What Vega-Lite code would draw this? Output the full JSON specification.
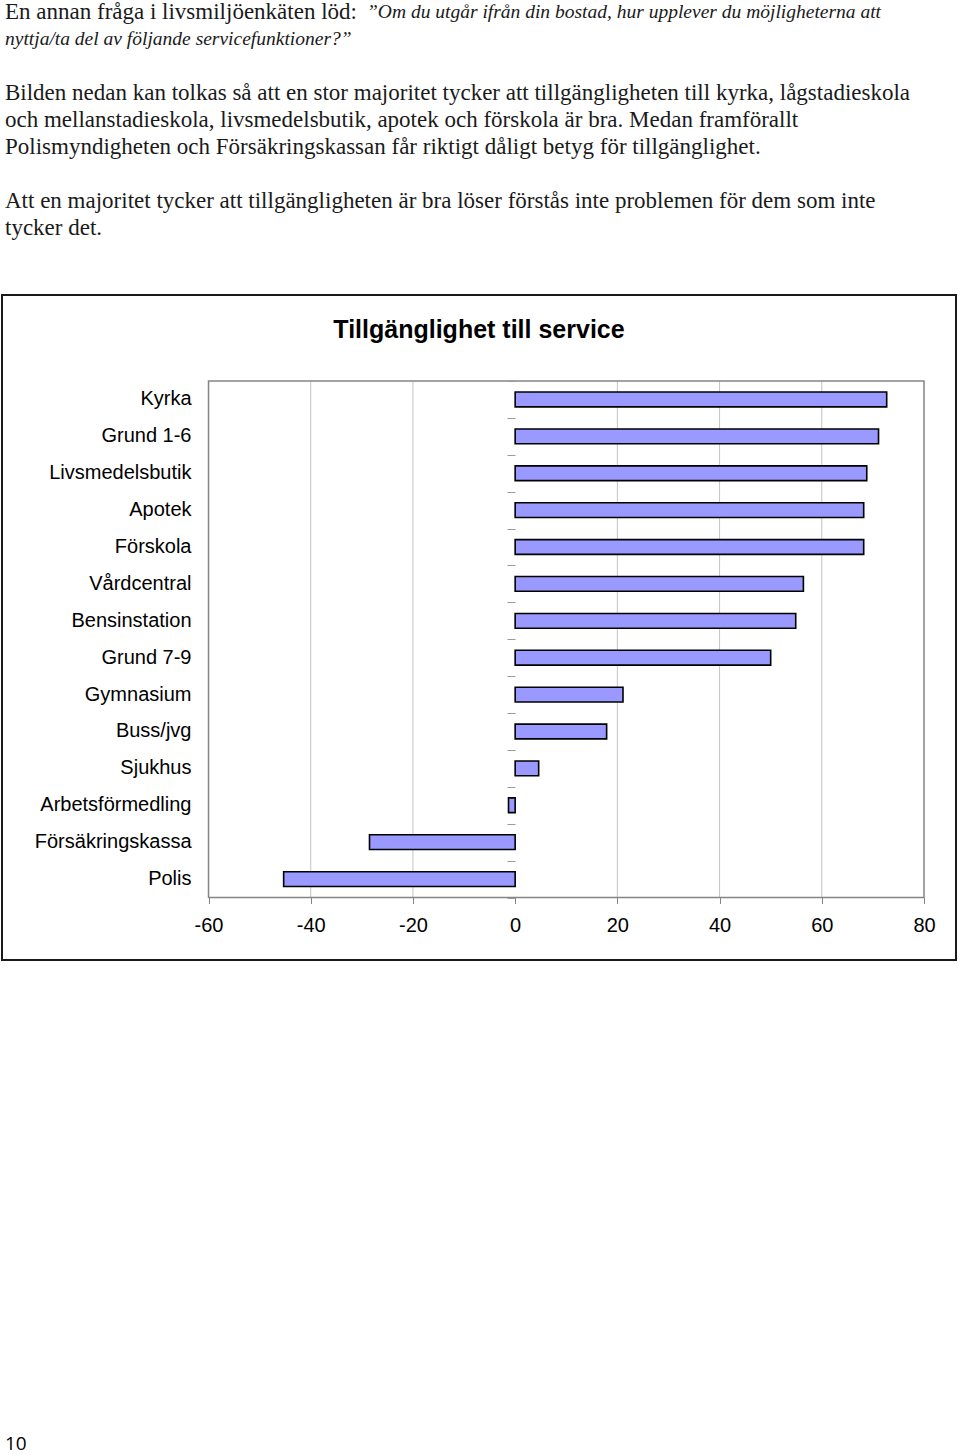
{
  "$schema": "https://vega.github.io/schema/vega-lite/v6.json",
  "padding": {"left": 1, "top": 0, "right": 0, "bottom": 0},
  "bounds": "flush",
  "spacing": 0,
  "background": "white",
  "config": {"view": {"stroke": null}, "font": "Liberation Sans"},
  "vconcat": [
    {
      "width": 954,
      "height": 295,
      "data": {"values": [
        {"line": 1, "style": "normal", "text": "En annan fråga i livsmiljöenkäten löd:"},
        {"line": 1, "style": "italic", "text": "”Om du utgår ifrån din bostad, hur upplever du möjligheterna att"},
        {"line": 2, "style": "italic", "text": "nyttja/ta del av följande servicefunktioner?”"},
        {"line": 4, "style": "normal", "text": "Bilden nedan kan tolkas så att en stor majoritet tycker att tillgängligheten till kyrka, lågstadieskola"},
        {"line": 5, "style": "normal", "text": "och mellanstadieskola, livsmedelsbutik, apotek och förskola är bra. Medan framförallt"},
        {"line": 6, "style": "normal", "text": "Polismyndigheten och Försäkringskassan får riktigt dåligt betyg för tillgänglighet."},
        {"line": 8, "style": "normal", "text": "Att en majoritet tycker att tillgängligheten är bra löser förstås inte problemen för dem som inte"},
        {"line": 9, "style": "normal", "text": "tycker det."}
      ]},
      "encoding": {
        "x": {"datum": 0, "type": "quantitative", "scale": {"domain": [0, 1]}, "axis": null},
        "y": {"field": "line", "type": "quantitative", "scale": {"domain": [0.556, 11.48], "reverse": true, "nice": false, "zero": false}, "axis": null},
        "text": {"field": "text"}
      },
      "layer": [
        {
          "transform": [{"filter": "datum.style == 'normal'"}],
          "mark": {"type": "text", "align": "left", "baseline": "middle", "dx": 3, "font": "Liberation Serif", "fontSize": 23, "color": "#1a1a1a"}
        },
        {
          "transform": [{"filter": "datum.style == 'italic' && datum.line == 1"}],
          "mark": {"type": "text", "align": "left", "baseline": "middle", "dx": 365, "font": "Liberation Serif", "fontStyle": "italic", "fontSize": 19.5, "color": "#1a1a1a"}
        },
        {
          "transform": [{"filter": "datum.style == 'italic' && datum.line == 2"}],
          "mark": {"type": "text", "align": "left", "baseline": "middle", "dx": 3, "font": "Liberation Serif", "fontStyle": "italic", "fontSize": 19.5, "color": "#1a1a1a"}
        }
      ]
    },
    {
      "width": 954,
      "height": 665,
      "view": {"stroke": "#1a1a1a", "strokeWidth": 2},
      "title": {"text": "Tillgänglighet till service", "font": "Liberation Sans", "fontSize": 25, "fontWeight": "bold", "color": "#000000", "anchor": "middle", "offset": -48},
      "resolve": {"axis": {"y": "independent"}},
      "layer": [
        {
          "data": {"values": [{"t": -40}, {"t": -20}, {"t": 20}, {"t": 40}, {"t": 60}]},
          "mark": {"type": "rule", "color": "#c4c4c4", "strokeWidth": 1},
          "encoding": {
            "x": {"field": "t", "type": "quantitative", "scale": {"domain": [-100.41, 86.26], "nice": false, "zero": false}},
            "y": {"datum": "Kyrka", "type": "nominal", "bandPosition": 0, "axis": null},
            "y2": {"datum": "Polis", "bandPosition": 1}
          }
        },
        {
          "data": {"values": [{"frame": "plot"}]},
          "mark": {"type": "rect", "fill": null, "fillOpacity": 0, "stroke": "#858585", "strokeWidth": 1.5},
          "encoding": {
            "x": {"datum": -60, "type": "quantitative"},
            "x2": {"datum": 80},
            "y": {"datum": "Kyrka", "type": "nominal", "bandPosition": 0,
                  "axis": {"orient": "left", "offset": -513, "labels": false, "domain": false, "ticks": true, "tickBand": "extent", "tickSize": 8, "tickColor": "#9a9a9a", "tickWidth": 1, "grid": false, "title": null}},
            "y2": {"datum": "Polis", "bandPosition": 1}
          }
        },
        {
          "data": {"values": [
            {"service": "Kyrka", "value": 72.7},
            {"service": "Grund 1-6", "value": 71.1},
            {"service": "Livsmedelsbutik", "value": 68.8},
            {"service": "Apotek", "value": 68.2},
            {"service": "Förskola", "value": 68.2},
            {"service": "Vårdcentral", "value": 56.4},
            {"service": "Bensinstation", "value": 54.9},
            {"service": "Grund 7-9", "value": 50.0},
            {"service": "Gymnasium", "value": 21.1},
            {"service": "Buss/jvg", "value": 17.9},
            {"service": "Sjukhus", "value": 4.6},
            {"service": "Arbetsförmedling", "value": -1.3},
            {"service": "Försäkringskassa", "value": -28.5},
            {"service": "Polis", "value": -45.3}
          ]},
          "mark": {"type": "bar", "height": {"band": 0.4}, "fill": "#9999ff", "stroke": "#000000", "strokeWidth": 1.6},
          "encoding": {
            "y": {"field": "service", "type": "nominal",
                  "scale": {"domain": ["Kyrka", "Grund 1-6", "Livsmedelsbutik", "Apotek", "Förskola", "Vårdcentral", "Bensinstation", "Grund 7-9", "Gymnasium", "Buss/jvg", "Sjukhus", "Arbetsförmedling", "Försäkringskassa", "Polis"], "range": [86, 602.5], "paddingInner": 0, "paddingOuter": 0},
                  "axis": {"orient": "left", "offset": -189, "title": null, "domain": false, "ticks": false, "tickSize": 0, "labelPadding": 0, "labelFont": "Liberation Sans", "labelFontSize": 20, "labelColor": "#000000", "labelLimit": 400, "grid": false}},
            "x": {"field": "value", "type": "quantitative",
                  "axis": {"orient": "bottom", "offset": -62.5, "values": [-60, -40, -20, 0, 20, 40, 60, 80], "labelExpr": "'' + datum.value", "domain": false, "grid": false, "ticks": true, "tickSize": 6, "tickColor": "#858585", "labelPadding": 12, "labelFont": "Liberation Sans", "labelFontSize": 20, "labelColor": "#000000", "labelFlush": false, "labelOverlap": false, "title": null}},
            "x2": {"datum": 0}
          }
        }
      ]
    },
    {
      "width": 954,
      "height": 495,
      "data": {"values": [{"page": "10"}]},
      "mark": {"type": "text", "align": "left", "baseline": "middle", "dx": 3, "dy": -11, "font": "Open Sans", "fontSize": 19, "color": "#000000"},
      "encoding": {
        "x": {"datum": 0, "type": "quantitative", "scale": {"domain": [0, 1]}, "axis": null},
        "y": {"value": "height"},
        "text": {"field": "page"}
      }
    }
  ]
}
